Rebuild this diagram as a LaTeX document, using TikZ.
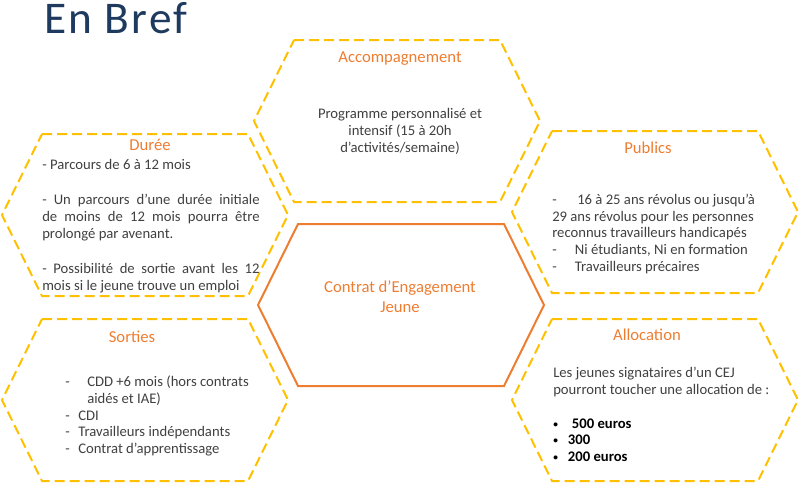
\documentclass[tikz,border=0pt]{standalone}
\usepackage{fontspec}
\setmainfont{Carlito}
\newfontfamily\titlefont[LetterSpace=5]{Carlito}
\usetikzlibrary{positioning}
\definecolor{gold}{HTML}{FFC000}
\definecolor{corange}{HTML}{ED7D31}
\definecolor{navy}{HTML}{1F3A5F}
\definecolor{bodygray}{HTML}{404040}
\tikzset{
  every node/.style={inner sep=0pt},
  hexline/.style={draw=gold, line width=1.5pt, dash pattern=on 7.5pt off 3.75pt},
  coreline/.style={draw=corange, line width=1.5pt},
  heading/.style={text=corange, font=\fontsize{12.5}{15}\selectfont, align=center},
  body/.style={text=bodygray, font=\fontsize{11}{12.5}\selectfont, align=left},
  pagetitle/.style={text=navy, font=\titlefont\fontsize{34}{40}\selectfont},
}
\newcommand{\hexa}[2][hexline]{%
  \draw[#1] ([shift={(-103,-81)}]#2) -- ([shift={(103,-81)}]#2)
    -- ([shift={(143,0)}]#2) -- ([shift={(103,81)}]#2)
    -- ([shift={(-103,81)}]#2) -- ([shift={(-143,0)}]#2) -- cycle;}
\newcommand{\tabdash}[1]{\makebox[#1][l]{-}}
\newcommand{\smallbullet}[1]{\makebox[#1][l]{\raisebox{0.15ex}{\fontsize{7}{7}\selectfont\textbullet}}}

\begin{document}
\begin{tikzpicture}[x=0.75pt, y=-0.75pt]
\useasboundingbox (0,0) rectangle (800,493);

\coordinate (acc) at (397,121);
\coordinate (duree) at (145,215);
\coordinate (sorties) at (145,400);
\coordinate (publics) at (655,212);
\coordinate (alloc) at (655,400);
\coordinate (cej) at (401,305);

\hexa{acc}
\hexa{duree}
\hexa{sorties}
\hexa{publics}
\hexa{alloc}
\hexa[coreline]{cej}

\node[pagetitle, anchor=base west] (title) at (44,33) {En Bref};

\node[heading] (acctitle) at (400,59) {Accompagnement};
\node[body, align=center, font=\fontsize{11}{12.75}\selectfont] (acctext) at (400,131)
  {Programme personnalisé et\\ intensif (15 à 20h\\ d’activités/semaine)};

\node[heading] (dureetitle) at (150,145) {Durée};
\node[body, align=justify, text width=163pt, anchor=north west] (dureetext) at (42,159)
  {- Parcours de 6 à 12 mois\\[14pt]
   - Un parcours d’une durée initiale\linebreak de moins de 12 mois pourra être\linebreak prolongé par avenant.\\[14pt]
   - Possibilité de sortie avant les 12\linebreak mois si le jeune trouve un emploi};

\node[heading] (publicstitle) at (648,148) {Publics};
\node[body, anchor=north west] (publicstext) at (552,194)
  {\tabdash{18.75pt}16 à 25 ans révolus ou jusqu’à\\
   29 ans révolus pour les personnes\\
   reconnus travailleurs handicapés\\
   \tabdash{17pt}Ni étudiants, Ni en formation\\
   \tabdash{17pt}Travailleurs précaires};

\node[heading] (sortiestitle) at (132,337) {Sorties};
\node[body, anchor=north west] (sortiestext) at (65,376)
  {\tabdash{16.5pt}CDD +6 mois (hors contrats\\
   \hspace*{16.5pt}aidés et IAE)\\
   \tabdash{9.75pt}CDI\\
   \tabdash{9.75pt}Travailleurs indépendants\\
   \tabdash{9.75pt}Contrat d’apprentissage};

\node[heading] (alloctitle) at (647,335) {Allocation};
\node[body, anchor=north west] (alloctext) at (553,367)
  {Les jeunes signataires d’un CEJ\\
   pourront toucher une allocation de :\\[13pt]
   {\color{black}\bfseries\smallbullet{14pt}500 euros}\\
   {\color{black}\bfseries\smallbullet{11pt}300}\\
   {\color{black}\bfseries\smallbullet{11pt}200 euros}};

\node[heading] (cejtext) at (400,297) {Contrat d’Engagement\\ Jeune};

\end{tikzpicture}
\end{document}
